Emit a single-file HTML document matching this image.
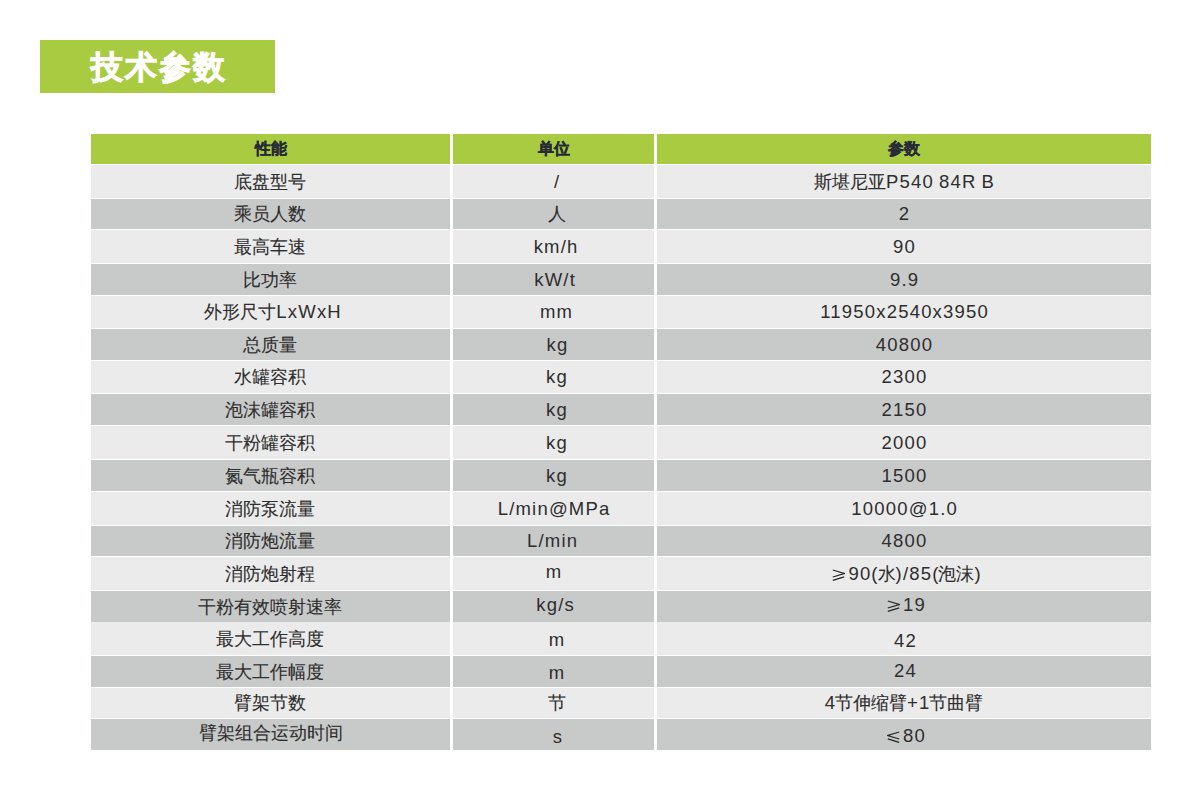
<!DOCTYPE html>
<html><head><meta charset="utf-8">
<style>
html,body{margin:0;padding:0;background:#fff;}
body{width:1200px;height:788px;position:relative;overflow:hidden;font-family:"Liberation Sans",sans-serif;}
.t{position:absolute;left:40px;top:40px;width:235px;height:53px;background:#a9cb42;}
.tt{position:absolute;left:91px;top:41px;height:52px;line-height:52px;font-size:32px;font-weight:bold;color:#fff;-webkit-text-stroke:0.9px #fff;letter-spacing:2px;}
.c{position:absolute;display:flex;align-items:center;justify-content:center;color:#2e2e2e;font-size:18px;white-space:nowrap;-webkit-text-stroke:0.1px #2e2e2e;}
.c>span.w{display:block;}
.e{font-size:18.5px;letter-spacing:1.2px;margin-right:-1.2px;-webkit-text-stroke:0;}
.s{font-style:normal;font-size:18px;letter-spacing:0;}
.g{vertical-align:-1px;margin-right:3px;}
.h{background:#a9cb42;font-weight:bold;color:#262a36;font-size:16px;-webkit-text-stroke:0.25px #262a36;}
.l{background:#ebebeb;}
.d{background:#c8c9c9;}
</style></head><body>
<div class="t"></div><div class="tt">技术参数</div>

<div class="c h" style="left:91px;top:134px;width:359px;height:30px"><span class="w">性能</span></div>
<div class="c h" style="left:453px;top:134px;width:201px;height:30px"><span class="w">单位</span></div>
<div class="c h" style="left:657px;top:134px;width:494px;height:30px"><span class="w">参数</span></div>
<div class="c l" style="left:91px;top:165px;width:359px;height:33px"><span class="w" style="position:relative;left:-1px">底盘型号</span></div>
<div class="c l" style="left:453px;top:165px;width:201px;height:33px"><span class="w" style="position:relative;left:3px;top:0px"><span class="e">/</span></span></div>
<div class="c l" style="left:657px;top:165px;width:494px;height:33px"><span class="w">斯堪尼亚<span class="e">P540<i class="s"> </i>84R<i class="s"> </i>B</span></span></div>
<div class="c d" style="left:91px;top:199px;width:359px;height:30px"><span class="w" style="position:relative;left:-1px">乘员人数</span></div>
<div class="c d" style="left:453px;top:199px;width:201px;height:30px"><span class="w" style="position:relative;left:3px;top:0px">人</span></div>
<div class="c d" style="left:657px;top:199px;width:494px;height:30px"><span class="w"><span class="e">2</span></span></div>
<div class="c l" style="left:91px;top:230px;width:359px;height:33px"><span class="w" style="position:relative;left:-1px">最高车速</span></div>
<div class="c l" style="left:453px;top:230px;width:201px;height:33px"><span class="w" style="position:relative;left:2px;top:0px"><span class="e">km/h</span></span></div>
<div class="c l" style="left:657px;top:230px;width:494px;height:33px"><span class="w"><span class="e">90</span></span></div>
<div class="c d" style="left:91px;top:264px;width:359px;height:31px"><span class="w" style="position:relative;left:-1px">比功率</span></div>
<div class="c d" style="left:453px;top:264px;width:201px;height:31px"><span class="w" style="position:relative;left:1px;top:0px"><span class="e">kW/t</span></span></div>
<div class="c d" style="left:657px;top:264px;width:494px;height:31px"><span class="w"><span class="e">9.9</span></span></div>
<div class="c l" style="left:91px;top:296px;width:359px;height:32px"><span class="w" style="position:relative;left:2px;top:0px">外形尺寸<span class="e">LxWxH</span></span></div>
<div class="c l" style="left:453px;top:296px;width:201px;height:32px"><span class="w" style="position:relative;left:2.5px;top:0px"><span class="e">mm</span></span></div>
<div class="c l" style="left:657px;top:296px;width:494px;height:32px"><span class="w"><span class="e">11950x2540x3950</span></span></div>
<div class="c d" style="left:91px;top:329px;width:359px;height:31px"><span class="w" style="position:relative;left:-1px">总质量</span></div>
<div class="c d" style="left:453px;top:329px;width:201px;height:31px"><span class="w" style="position:relative;left:3.5px;top:0px"><span class="e">kg</span></span></div>
<div class="c d" style="left:657px;top:329px;width:494px;height:31px"><span class="w"><span class="e">40800</span></span></div>
<div class="c l" style="left:91px;top:361px;width:359px;height:32px"><span class="w" style="position:relative;left:-1px">水罐容积</span></div>
<div class="c l" style="left:453px;top:361px;width:201px;height:32px"><span class="w" style="position:relative;left:3px;top:0px"><span class="e">kg</span></span></div>
<div class="c l" style="left:657px;top:361px;width:494px;height:32px"><span class="w"><span class="e">2300</span></span></div>
<div class="c d" style="left:91px;top:394px;width:359px;height:31px"><span class="w" style="position:relative;left:-1px">泡沫罐容积</span></div>
<div class="c d" style="left:453px;top:394px;width:201px;height:31px"><span class="w" style="position:relative;left:3px;top:0px"><span class="e">kg</span></span></div>
<div class="c d" style="left:657px;top:394px;width:494px;height:31px"><span class="w"><span class="e">2150</span></span></div>
<div class="c l" style="left:91px;top:426px;width:359px;height:33px"><span class="w" style="position:relative;left:-1px">干粉罐容积</span></div>
<div class="c l" style="left:453px;top:426px;width:201px;height:33px"><span class="w" style="position:relative;left:3px;top:0px"><span class="e">kg</span></span></div>
<div class="c l" style="left:657px;top:426px;width:494px;height:33px"><span class="w"><span class="e">2000</span></span></div>
<div class="c d" style="left:91px;top:460px;width:359px;height:31px"><span class="w" style="position:relative;left:-1px">氮气瓶容积</span></div>
<div class="c d" style="left:453px;top:460px;width:201px;height:31px"><span class="w" style="position:relative;left:3px;top:0px"><span class="e">kg</span></span></div>
<div class="c d" style="left:657px;top:460px;width:494px;height:31px"><span class="w"><span class="e">1500</span></span></div>
<div class="c l" style="left:91px;top:492px;width:359px;height:33px"><span class="w" style="position:relative;left:-1px">消防泵流量</span></div>
<div class="c l" style="left:453px;top:492px;width:201px;height:33px"><span class="w" style="position:relative;left:0px;top:0px"><span class="e">L/min@MPa</span></span></div>
<div class="c l" style="left:657px;top:492px;width:494px;height:33px"><span class="w"><span class="e">10000@1.0</span></span></div>
<div class="c d" style="left:91px;top:526px;width:359px;height:30px"><span class="w" style="position:relative;left:-1px">消防炮流量</span></div>
<div class="c d" style="left:453px;top:526px;width:201px;height:30px"><span class="w" style="position:relative;left:-1.5px;top:0px"><span class="e">L/min</span></span></div>
<div class="c d" style="left:657px;top:526px;width:494px;height:30px"><span class="w"><span class="e">4800</span></span></div>
<div class="c l" style="left:91px;top:557px;width:359px;height:33px"><span class="w" style="position:relative;left:-1px">消防炮射程</span></div>
<div class="c l" style="left:453px;top:557px;width:201px;height:33px"><span class="w" style="position:relative;left:0px;top:-1.5px"><span class="e">m</span></span></div>
<div class="c l" style="left:657px;top:557px;width:494px;height:33px"><span class="w" style="position:relative;left:2.5px;top:0px"><svg class="g" width="13" height="12" viewBox="0 0 13 12"><path d="M0.8,1 L12.2,4.5 L0.8,8 M0.8,11.3 L12.2,7.8" fill="none" stroke="#262626" stroke-width="1.3"/></svg><span class="e">90(</span>水<span class="e">)/85(</span>泡沫<span class="e">)</span></span></div>
<div class="c d" style="left:91px;top:591px;width:359px;height:31px"><span class="w" style="position:relative;left:-1px">干粉有效喷射速率</span></div>
<div class="c d" style="left:453px;top:591px;width:201px;height:31px"><span class="w" style="position:relative;left:1.5px;top:-1.5px"><span class="e">kg/s</span></span></div>
<div class="c d" style="left:657px;top:591px;width:494px;height:31px"><span class="w" style="position:relative;left:2px;top:-1.5px"><svg class="g" width="13" height="12" viewBox="0 0 13 12"><path d="M0.8,1 L12.2,4.5 L0.8,8 M0.8,11.3 L12.2,7.8" fill="none" stroke="#262626" stroke-width="1.3"/></svg><span class="e">19</span></span></div>
<div class="c l" style="left:91px;top:622px;width:359px;height:33px"><span class="w" style="position:relative;left:-1px">最大工作高度</span></div>
<div class="c l" style="left:453px;top:622px;width:201px;height:33px"><span class="w" style="position:relative;left:3px;top:1px"><span class="e">m</span></span></div>
<div class="c l" style="left:657px;top:622px;width:494px;height:33px"><span class="w" style="position:relative;left:1px;top:2px"><span class="e">42</span></span></div>
<div class="c d" style="left:91px;top:656px;width:359px;height:31px"><span class="w" style="position:relative;left:-1px">最大工作幅度</span></div>
<div class="c d" style="left:453px;top:656px;width:201px;height:31px"><span class="w" style="position:relative;left:3px;top:1.5px"><span class="e">m</span></span></div>
<div class="c d" style="left:657px;top:656px;width:494px;height:31px"><span class="w" style="position:relative;left:1px;top:-1px"><span class="e">24</span></span></div>
<div class="c l" style="left:91px;top:688px;width:359px;height:30px"><span class="w" style="position:relative;left:-1px">臂架节数</span></div>
<div class="c l" style="left:453px;top:688px;width:201px;height:30px"><span class="w" style="position:relative;left:3px;top:0px">节</span></div>
<div class="c l" style="left:657px;top:688px;width:494px;height:30px"><span class="w"><span class="e">4</span>节伸缩臂<span class="e">+1</span>节曲臂</span></div>
<div class="c d" style="left:91px;top:719px;width:359px;height:31px"><span class="w" style="position:relative;left:0px;top:-2px">臂架组合运动时间</span></div>
<div class="c d" style="left:453px;top:719px;width:201px;height:31px"><span class="w" style="position:relative;left:4px;top:2px"><span class="e">s</span></span></div>
<div class="c d" style="left:657px;top:719px;width:494px;height:31px"><span class="w" style="position:relative;left:2px;top:1.5px"><svg class="g" width="13" height="12" viewBox="0 0 13 12"><path d="M12.2,1 L0.8,4.5 L12.2,8 M12.2,11.3 L0.8,7.8" fill="none" stroke="#262626" stroke-width="1.3"/></svg><span class="e">80</span></span></div>
</body></html>
